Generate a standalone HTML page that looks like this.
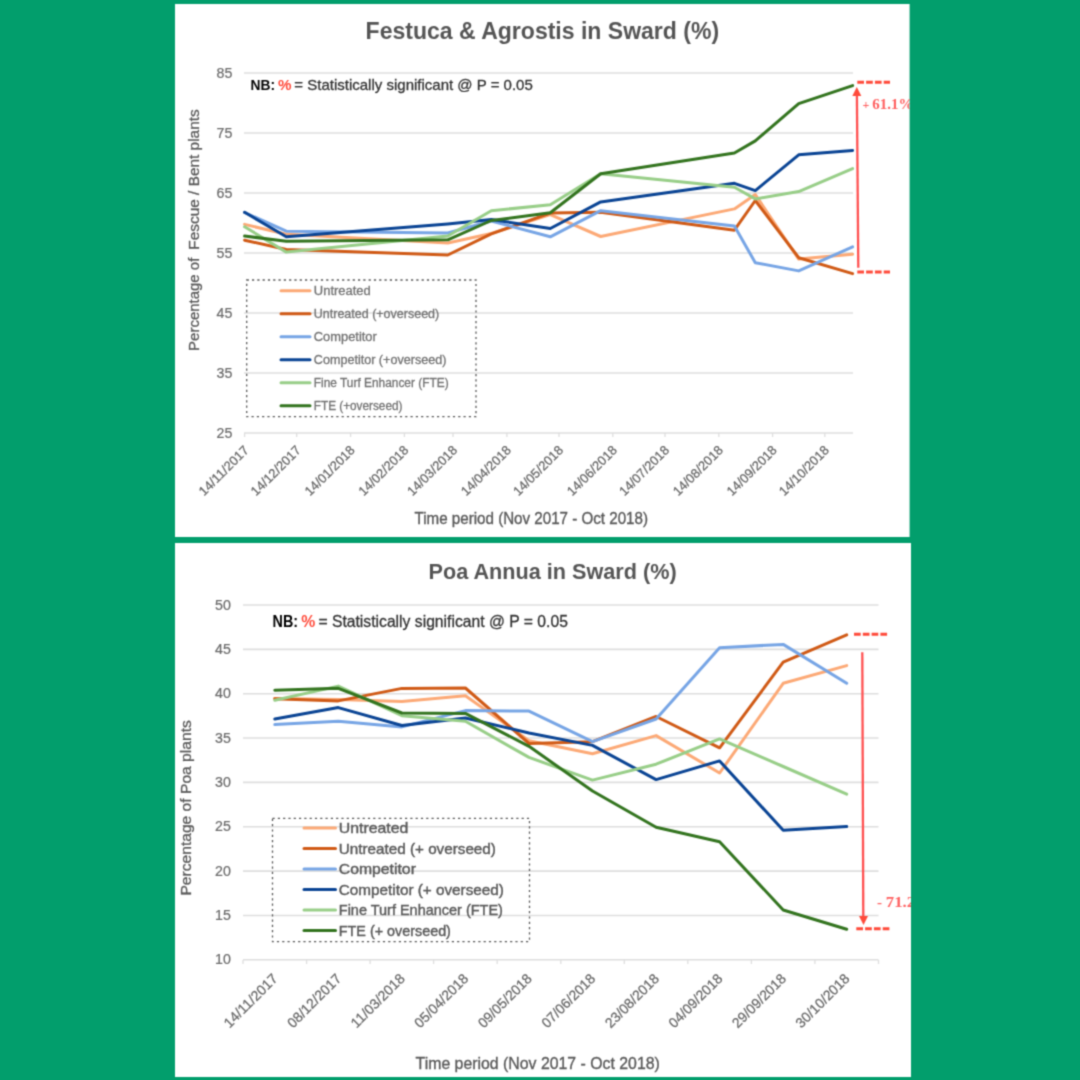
<!DOCTYPE html><html><head><meta charset="utf-8"><style>html,body{margin:0;padding:0;background:#029E6C;}svg{display:block}</style></head><body>
<svg width="1080" height="1080" viewBox="0 0 1080 1080">
<defs><filter id="bl" x="0" y="0" width="1080" height="1080" filterUnits="userSpaceOnUse" color-interpolation-filters="sRGB"><feConvolveMatrix order="3" kernelMatrix="0.03607 0.11778 0.03607 0.11778 0.38462 0.11778 0.03607 0.11778 0.03607" edgeMode="duplicate"/></filter></defs><g filter="url(#bl)">
<rect x="0" y="0" width="1080" height="1080" fill="#029E6C"/>
<rect x="175" y="4" width="734.6" height="533" fill="#FFFFFF"/>
<rect x="175" y="543" width="736" height="534" fill="#FFFFFF"/>
<defs><clipPath id="c1"><rect x="175" y="4" width="735" height="533"/></clipPath><clipPath id="c2"><rect x="175" y="543" width="736" height="534"/></clipPath></defs>
<g clip-path="url(#c1)">
<text x="365.6" y="39" font-family="Liberation Sans" font-size="23.3" font-weight="bold" fill="#555" text-anchor="start" textLength="353.5" lengthAdjust="spacingAndGlyphs" >Festuca &amp; Agrostis in Sward (%)</text>
<line x1="244" y1="73" x2="853" y2="73" stroke="#DEDEDE" stroke-width="1.6"/>
<text x="232.3" y="77.5" font-family="Liberation Sans" font-size="14" font-weight="normal" fill="#6A6A6A" text-anchor="end" textLength="15.8" lengthAdjust="spacingAndGlyphs" stroke="#6A6A6A" stroke-width="0.2" >85</text>
<line x1="244" y1="133" x2="853" y2="133" stroke="#DEDEDE" stroke-width="1.6"/>
<text x="232.3" y="137.5" font-family="Liberation Sans" font-size="14" font-weight="normal" fill="#6A6A6A" text-anchor="end" textLength="15.8" lengthAdjust="spacingAndGlyphs" stroke="#6A6A6A" stroke-width="0.2" >75</text>
<line x1="244" y1="193" x2="853" y2="193" stroke="#DEDEDE" stroke-width="1.6"/>
<text x="232.3" y="197.5" font-family="Liberation Sans" font-size="14" font-weight="normal" fill="#6A6A6A" text-anchor="end" textLength="15.8" lengthAdjust="spacingAndGlyphs" stroke="#6A6A6A" stroke-width="0.2" >65</text>
<line x1="244" y1="253" x2="853" y2="253" stroke="#DEDEDE" stroke-width="1.6"/>
<text x="232.3" y="257.5" font-family="Liberation Sans" font-size="14" font-weight="normal" fill="#6A6A6A" text-anchor="end" textLength="15.8" lengthAdjust="spacingAndGlyphs" stroke="#6A6A6A" stroke-width="0.2" >55</text>
<line x1="244" y1="313" x2="853" y2="313" stroke="#DEDEDE" stroke-width="1.6"/>
<text x="232.3" y="317.5" font-family="Liberation Sans" font-size="14" font-weight="normal" fill="#6A6A6A" text-anchor="end" textLength="15.8" lengthAdjust="spacingAndGlyphs" stroke="#6A6A6A" stroke-width="0.2" >45</text>
<line x1="244" y1="373" x2="853" y2="373" stroke="#DEDEDE" stroke-width="1.6"/>
<text x="232.3" y="377.5" font-family="Liberation Sans" font-size="14" font-weight="normal" fill="#6A6A6A" text-anchor="end" textLength="15.8" lengthAdjust="spacingAndGlyphs" stroke="#6A6A6A" stroke-width="0.2" >35</text>
<line x1="244" y1="433" x2="853" y2="433" stroke="#DEDEDE" stroke-width="1.6"/>
<text x="232.3" y="437.5" font-family="Liberation Sans" font-size="14" font-weight="normal" fill="#6A6A6A" text-anchor="end" textLength="15.8" lengthAdjust="spacingAndGlyphs" stroke="#6A6A6A" stroke-width="0.2" >25</text>
<line x1="244.6" y1="433" x2="244.6" y2="437" stroke="#DEDEDE" stroke-width="1.3"/>
<line x1="296.7" y1="433" x2="296.7" y2="437" stroke="#DEDEDE" stroke-width="1.3"/>
<line x1="350.6" y1="433" x2="350.6" y2="437" stroke="#DEDEDE" stroke-width="1.3"/>
<line x1="404.4" y1="433" x2="404.4" y2="437" stroke="#DEDEDE" stroke-width="1.3"/>
<line x1="453.0" y1="433" x2="453.0" y2="437" stroke="#DEDEDE" stroke-width="1.3"/>
<line x1="506.9" y1="433" x2="506.9" y2="437" stroke="#DEDEDE" stroke-width="1.3"/>
<line x1="559.0" y1="433" x2="559.0" y2="437" stroke="#DEDEDE" stroke-width="1.3"/>
<line x1="612.8" y1="433" x2="612.8" y2="437" stroke="#DEDEDE" stroke-width="1.3"/>
<line x1="665.0" y1="433" x2="665.0" y2="437" stroke="#DEDEDE" stroke-width="1.3"/>
<line x1="718.8" y1="433" x2="718.8" y2="437" stroke="#DEDEDE" stroke-width="1.3"/>
<line x1="772.6" y1="433" x2="772.6" y2="437" stroke="#DEDEDE" stroke-width="1.3"/>
<line x1="824.8" y1="433" x2="824.8" y2="437" stroke="#DEDEDE" stroke-width="1.3"/>
<text transform="translate(249.6,451.0) rotate(-45)" font-family="Liberation Sans" font-size="13" fill="#686868" stroke="#686868" stroke-width="0.25" text-anchor="end" textLength="64.5" lengthAdjust="spacingAndGlyphs">14/11/2017</text>
<text transform="translate(301.7,451.0) rotate(-45)" font-family="Liberation Sans" font-size="13" fill="#686868" stroke="#686868" stroke-width="0.25" text-anchor="end" textLength="64.5" lengthAdjust="spacingAndGlyphs">14/12/2017</text>
<text transform="translate(355.6,451.0) rotate(-45)" font-family="Liberation Sans" font-size="13" fill="#686868" stroke="#686868" stroke-width="0.25" text-anchor="end" textLength="64.5" lengthAdjust="spacingAndGlyphs">14/01/2018</text>
<text transform="translate(409.4,451.0) rotate(-45)" font-family="Liberation Sans" font-size="13" fill="#686868" stroke="#686868" stroke-width="0.25" text-anchor="end" textLength="64.5" lengthAdjust="spacingAndGlyphs">14/02/2018</text>
<text transform="translate(458.0,451.0) rotate(-45)" font-family="Liberation Sans" font-size="13" fill="#686868" stroke="#686868" stroke-width="0.25" text-anchor="end" textLength="64.5" lengthAdjust="spacingAndGlyphs">14/03/2018</text>
<text transform="translate(511.9,451.0) rotate(-45)" font-family="Liberation Sans" font-size="13" fill="#686868" stroke="#686868" stroke-width="0.25" text-anchor="end" textLength="64.5" lengthAdjust="spacingAndGlyphs">14/04/2018</text>
<text transform="translate(564.0,451.0) rotate(-45)" font-family="Liberation Sans" font-size="13" fill="#686868" stroke="#686868" stroke-width="0.25" text-anchor="end" textLength="64.5" lengthAdjust="spacingAndGlyphs">14/05/2018</text>
<text transform="translate(617.8,451.0) rotate(-45)" font-family="Liberation Sans" font-size="13" fill="#686868" stroke="#686868" stroke-width="0.25" text-anchor="end" textLength="64.5" lengthAdjust="spacingAndGlyphs">14/06/2018</text>
<text transform="translate(670.0,451.0) rotate(-45)" font-family="Liberation Sans" font-size="13" fill="#686868" stroke="#686868" stroke-width="0.25" text-anchor="end" textLength="64.5" lengthAdjust="spacingAndGlyphs">14/07/2018</text>
<text transform="translate(723.8,451.0) rotate(-45)" font-family="Liberation Sans" font-size="13" fill="#686868" stroke="#686868" stroke-width="0.25" text-anchor="end" textLength="64.5" lengthAdjust="spacingAndGlyphs">14/08/2018</text>
<text transform="translate(777.6,451.0) rotate(-45)" font-family="Liberation Sans" font-size="13" fill="#686868" stroke="#686868" stroke-width="0.25" text-anchor="end" textLength="64.5" lengthAdjust="spacingAndGlyphs">14/09/2018</text>
<text transform="translate(829.8,451.0) rotate(-45)" font-family="Liberation Sans" font-size="13" fill="#686868" stroke="#686868" stroke-width="0.25" text-anchor="end" textLength="64.5" lengthAdjust="spacingAndGlyphs">14/10/2018</text>
<text transform="translate(199.1,350.9) rotate(-90)" font-family="Liberation Sans" font-size="15.5" fill="#595959" stroke="#595959" stroke-width="0.3" textLength="93.2" lengthAdjust="spacingAndGlyphs">Percentage of</text>
<text transform="translate(199.1,249.7) rotate(-90)" font-family="Liberation Sans" font-size="15.5" fill="#595959" stroke="#595959" stroke-width="0.3" textLength="140.4" lengthAdjust="spacingAndGlyphs">Fescue / Bent plants</text>
<text x="414.5" y="524" font-family="Liberation Sans" font-size="16" font-weight="normal" fill="#595959" text-anchor="start" textLength="233.5" lengthAdjust="spacingAndGlyphs" stroke="#595959" stroke-width="0.35" >Time period (Nov 2017 - Oct 2018)</text>
<text x="250.6" y="89.9" font-family="Liberation Sans" font-size="15" font-weight="bold" fill="#000" textLength="24.5" lengthAdjust="spacingAndGlyphs">NB:</text>
<text x="278.1" y="89.9" font-family="Liberation Sans" font-size="15" font-weight="bold" fill="#FF4A3A" textLength="13.5" lengthAdjust="spacingAndGlyphs">%</text>
<text x="294.3" y="89.9" font-family="Liberation Sans" font-size="15" fill="#333" stroke="#333" stroke-width="0.3" textLength="238.5" lengthAdjust="spacingAndGlyphs">= Statistically significant @ P = 0.05</text>
<rect x="246.7" y="280" width="229.3" height="136.7" fill="none" stroke="#595959" stroke-width="1.3" stroke-dasharray="2.2 3.1"/>
<line x1="281" y1="290.7" x2="310" y2="290.7" stroke="#FCA976" stroke-width="3" stroke-linecap="round"/>
<text x="313.8" y="295.09999999999997" font-family="Liberation Sans" font-size="12" font-weight="normal" fill="#727272" text-anchor="start" textLength="57" lengthAdjust="spacingAndGlyphs" stroke="#727272" stroke-width="0.3" >Untreated</text>
<line x1="281" y1="313.7" x2="310" y2="313.7" stroke="#D05A16" stroke-width="3" stroke-linecap="round"/>
<text x="313.8" y="318.09999999999997" font-family="Liberation Sans" font-size="12" font-weight="normal" fill="#727272" text-anchor="start" textLength="125.4" lengthAdjust="spacingAndGlyphs" stroke="#727272" stroke-width="0.3" >Untreated (+overseed)</text>
<line x1="281" y1="336.7" x2="310" y2="336.7" stroke="#77A5E5" stroke-width="3" stroke-linecap="round"/>
<text x="313.8" y="341.09999999999997" font-family="Liberation Sans" font-size="12" font-weight="normal" fill="#727272" text-anchor="start" textLength="63" lengthAdjust="spacingAndGlyphs" stroke="#727272" stroke-width="0.3" >Competitor</text>
<line x1="281" y1="359.7" x2="310" y2="359.7" stroke="#0A4494" stroke-width="3" stroke-linecap="round"/>
<text x="313.8" y="364.09999999999997" font-family="Liberation Sans" font-size="12" font-weight="normal" fill="#727272" text-anchor="start" textLength="132.6" lengthAdjust="spacingAndGlyphs" stroke="#727272" stroke-width="0.3" >Competitor (+overseed)</text>
<line x1="281" y1="382.7" x2="310" y2="382.7" stroke="#98CE88" stroke-width="3" stroke-linecap="round"/>
<text x="313.8" y="387.09999999999997" font-family="Liberation Sans" font-size="12" font-weight="normal" fill="#727272" text-anchor="start" textLength="134.8" lengthAdjust="spacingAndGlyphs" stroke="#727272" stroke-width="0.3" >Fine Turf Enhancer (FTE)</text>
<line x1="281" y1="405.7" x2="310" y2="405.7" stroke="#33741F" stroke-width="3" stroke-linecap="round"/>
<text x="313.8" y="410.09999999999997" font-family="Liberation Sans" font-size="12" font-weight="normal" fill="#727272" text-anchor="start" textLength="88.6" lengthAdjust="spacingAndGlyphs" stroke="#727272" stroke-width="0.3" >FTE (+overseed)</text>
<polyline points="244.6,224.4 286.3,234.2 447.8,243.0 491.3,233.5 550.3,214.6 600.7,236.5 734.4,208.9 755.3,194.6 798.7,259.1 852.6,254.2" fill="none" stroke="#FCA976" stroke-width="3" stroke-linejoin="round" stroke-linecap="round"/>
<polyline points="244.6,240.2 286.3,249.5 447.8,255.0 491.3,233.9 550.3,213.1 600.7,212.2 734.4,230.2 755.3,200.5 798.7,257.7 852.6,273.6" fill="none" stroke="#D05A16" stroke-width="3" stroke-linejoin="round" stroke-linecap="round"/>
<polyline points="244.6,212.5 286.3,231.2 447.8,233.0 491.3,221.0 550.3,236.8 600.7,210.7 734.4,226.0 755.3,262.7 798.7,270.9 852.6,246.8" fill="none" stroke="#77A5E5" stroke-width="3" stroke-linejoin="round" stroke-linecap="round"/>
<polyline points="244.6,212.3 286.3,236.8 447.8,224.0 491.3,219.6 550.3,228.5 600.7,201.9 734.4,183.3 755.3,190.6 798.7,154.8 852.6,150.5" fill="none" stroke="#0A4494" stroke-width="3" stroke-linejoin="round" stroke-linecap="round"/>
<polyline points="244.6,226.8 286.3,252.1 447.8,236.0 491.3,210.7 550.3,204.8 600.7,173.7 734.4,187.2 755.3,198.9 798.7,191.6 852.6,168.6" fill="none" stroke="#98CE88" stroke-width="3" stroke-linejoin="round" stroke-linecap="round"/>
<polyline points="244.6,236.1 286.3,241.2 447.8,239.8 491.3,220.5 550.3,212.8 600.7,173.7 734.4,153.0 755.3,140.9 798.7,103.7 852.6,85.6" fill="none" stroke="#33741F" stroke-width="3" stroke-linejoin="round" stroke-linecap="round"/>
<line x1="857.3" y1="82.3" x2="890" y2="82.3" stroke="#FF4A3A" stroke-width="3" stroke-dasharray="6.7 2.1"/>
<line x1="857.3" y1="271.9" x2="890" y2="271.9" stroke="#FF4A3A" stroke-width="3" stroke-dasharray="6.7 2.1"/>
<line x1="856.9" y1="95" x2="858.3" y2="267.7" stroke="#FF5050" stroke-width="2.3"/>
<polygon points="856.8,87 852.3,96 861.3,96" fill="#FF4A3A"/>
<text x="862.6" y="108.6" font-family="Liberation Serif" font-size="12" font-weight="bold" fill="#FF6060">+</text>
<text x="872.3" y="109.3" font-family="Liberation Serif" font-size="14.5" font-weight="bold" fill="#FF6060" textLength="41" lengthAdjust="spacingAndGlyphs">61.1%</text>
</g>
<g clip-path="url(#c2)">
<text x="428.6" y="578.5" font-family="Liberation Sans" font-size="22" font-weight="bold" fill="#555" text-anchor="start" textLength="248" lengthAdjust="spacingAndGlyphs" >Poa Annua in Sward (%)</text>
<line x1="243" y1="605.0" x2="878.5" y2="605.0" stroke="#DEDEDE" stroke-width="1.6"/>
<text x="230.9" y="609.6" font-family="Liberation Sans" font-size="14" font-weight="normal" fill="#6A6A6A" text-anchor="end" textLength="15.8" lengthAdjust="spacingAndGlyphs" stroke="#6A6A6A" stroke-width="0.2" >50</text>
<line x1="243" y1="649.4" x2="878.5" y2="649.4" stroke="#DEDEDE" stroke-width="1.6"/>
<text x="230.9" y="653.95" font-family="Liberation Sans" font-size="14" font-weight="normal" fill="#6A6A6A" text-anchor="end" textLength="15.8" lengthAdjust="spacingAndGlyphs" stroke="#6A6A6A" stroke-width="0.2" >45</text>
<line x1="243" y1="693.7" x2="878.5" y2="693.7" stroke="#DEDEDE" stroke-width="1.6"/>
<text x="230.9" y="698.3000000000001" font-family="Liberation Sans" font-size="14" font-weight="normal" fill="#6A6A6A" text-anchor="end" textLength="15.8" lengthAdjust="spacingAndGlyphs" stroke="#6A6A6A" stroke-width="0.2" >40</text>
<line x1="243" y1="738.0" x2="878.5" y2="738.0" stroke="#DEDEDE" stroke-width="1.6"/>
<text x="230.9" y="742.65" font-family="Liberation Sans" font-size="14" font-weight="normal" fill="#6A6A6A" text-anchor="end" textLength="15.8" lengthAdjust="spacingAndGlyphs" stroke="#6A6A6A" stroke-width="0.2" >35</text>
<line x1="243" y1="782.4" x2="878.5" y2="782.4" stroke="#DEDEDE" stroke-width="1.6"/>
<text x="230.9" y="787.0" font-family="Liberation Sans" font-size="14" font-weight="normal" fill="#6A6A6A" text-anchor="end" textLength="15.8" lengthAdjust="spacingAndGlyphs" stroke="#6A6A6A" stroke-width="0.2" >30</text>
<line x1="243" y1="826.8" x2="878.5" y2="826.8" stroke="#DEDEDE" stroke-width="1.6"/>
<text x="230.9" y="831.35" font-family="Liberation Sans" font-size="14" font-weight="normal" fill="#6A6A6A" text-anchor="end" textLength="15.8" lengthAdjust="spacingAndGlyphs" stroke="#6A6A6A" stroke-width="0.2" >25</text>
<line x1="243" y1="871.1" x2="878.5" y2="871.1" stroke="#DEDEDE" stroke-width="1.6"/>
<text x="230.9" y="875.7" font-family="Liberation Sans" font-size="14" font-weight="normal" fill="#6A6A6A" text-anchor="end" textLength="15.8" lengthAdjust="spacingAndGlyphs" stroke="#6A6A6A" stroke-width="0.2" >20</text>
<line x1="243" y1="915.5" x2="878.5" y2="915.5" stroke="#DEDEDE" stroke-width="1.6"/>
<text x="230.9" y="920.0500000000001" font-family="Liberation Sans" font-size="14" font-weight="normal" fill="#6A6A6A" text-anchor="end" textLength="15.8" lengthAdjust="spacingAndGlyphs" stroke="#6A6A6A" stroke-width="0.2" >15</text>
<line x1="243" y1="959.8" x2="878.5" y2="959.8" stroke="#DEDEDE" stroke-width="1.6"/>
<text x="230.9" y="964.4" font-family="Liberation Sans" font-size="14" font-weight="normal" fill="#6A6A6A" text-anchor="end" textLength="15.8" lengthAdjust="spacingAndGlyphs" stroke="#6A6A6A" stroke-width="0.2" >10</text>
<line x1="243.0" y1="960" x2="243.0" y2="964" stroke="#DEDEDE" stroke-width="1.3"/>
<line x1="306.6" y1="960" x2="306.6" y2="964" stroke="#DEDEDE" stroke-width="1.3"/>
<line x1="370.1" y1="960" x2="370.1" y2="964" stroke="#DEDEDE" stroke-width="1.3"/>
<line x1="433.6" y1="960" x2="433.6" y2="964" stroke="#DEDEDE" stroke-width="1.3"/>
<line x1="497.2" y1="960" x2="497.2" y2="964" stroke="#DEDEDE" stroke-width="1.3"/>
<line x1="560.8" y1="960" x2="560.8" y2="964" stroke="#DEDEDE" stroke-width="1.3"/>
<line x1="624.3" y1="960" x2="624.3" y2="964" stroke="#DEDEDE" stroke-width="1.3"/>
<line x1="687.8" y1="960" x2="687.8" y2="964" stroke="#DEDEDE" stroke-width="1.3"/>
<line x1="751.4" y1="960" x2="751.4" y2="964" stroke="#DEDEDE" stroke-width="1.3"/>
<line x1="814.9" y1="960" x2="814.9" y2="964" stroke="#DEDEDE" stroke-width="1.3"/>
<line x1="878.5" y1="960" x2="878.5" y2="964" stroke="#DEDEDE" stroke-width="1.3"/>
<text transform="translate(278.6,979.5) rotate(-45)" font-family="Liberation Sans" font-size="14" fill="#686868" stroke="#686868" stroke-width="0.25" text-anchor="end" textLength="69.5" lengthAdjust="spacingAndGlyphs">14/11/2017</text>
<text transform="translate(342.1,979.5) rotate(-45)" font-family="Liberation Sans" font-size="14" fill="#686868" stroke="#686868" stroke-width="0.25" text-anchor="end" textLength="69.5" lengthAdjust="spacingAndGlyphs">08/12/2017</text>
<text transform="translate(405.7,979.5) rotate(-45)" font-family="Liberation Sans" font-size="14" fill="#686868" stroke="#686868" stroke-width="0.25" text-anchor="end" textLength="69.5" lengthAdjust="spacingAndGlyphs">11/03/2018</text>
<text transform="translate(469.2,979.5) rotate(-45)" font-family="Liberation Sans" font-size="14" fill="#686868" stroke="#686868" stroke-width="0.25" text-anchor="end" textLength="69.5" lengthAdjust="spacingAndGlyphs">05/04/2018</text>
<text transform="translate(532.8,979.5) rotate(-45)" font-family="Liberation Sans" font-size="14" fill="#686868" stroke="#686868" stroke-width="0.25" text-anchor="end" textLength="69.5" lengthAdjust="spacingAndGlyphs">09/05/2018</text>
<text transform="translate(596.3,979.5) rotate(-45)" font-family="Liberation Sans" font-size="14" fill="#686868" stroke="#686868" stroke-width="0.25" text-anchor="end" textLength="69.5" lengthAdjust="spacingAndGlyphs">07/06/2018</text>
<text transform="translate(659.9,979.5) rotate(-45)" font-family="Liberation Sans" font-size="14" fill="#686868" stroke="#686868" stroke-width="0.25" text-anchor="end" textLength="69.5" lengthAdjust="spacingAndGlyphs">23/08/2018</text>
<text transform="translate(723.4,979.5) rotate(-45)" font-family="Liberation Sans" font-size="14" fill="#686868" stroke="#686868" stroke-width="0.25" text-anchor="end" textLength="69.5" lengthAdjust="spacingAndGlyphs">04/09/2018</text>
<text transform="translate(787.0,979.5) rotate(-45)" font-family="Liberation Sans" font-size="14" fill="#686868" stroke="#686868" stroke-width="0.25" text-anchor="end" textLength="69.5" lengthAdjust="spacingAndGlyphs">29/09/2018</text>
<text transform="translate(850.5,979.5) rotate(-45)" font-family="Liberation Sans" font-size="14" fill="#686868" stroke="#686868" stroke-width="0.25" text-anchor="end" textLength="69.5" lengthAdjust="spacingAndGlyphs">30/10/2018</text>
<text transform="translate(191.3,895.6) rotate(-90)" font-family="Liberation Sans" font-size="15.5" fill="#595959" stroke="#595959" stroke-width="0.3" textLength="175.4" lengthAdjust="spacingAndGlyphs">Percentage of Poa plants</text>
<text x="415.6" y="1068.9" font-family="Liberation Sans" font-size="16.5" font-weight="normal" fill="#595959" text-anchor="start" textLength="244.2" lengthAdjust="spacingAndGlyphs" stroke="#595959" stroke-width="0.35" >Time period (Nov 2017 - Oct 2018)</text>
<text x="272.6" y="626.7" font-family="Liberation Sans" font-size="16.5" font-weight="bold" fill="#000" textLength="25.5" lengthAdjust="spacingAndGlyphs">NB:</text>
<text x="301.3" y="626.7" font-family="Liberation Sans" font-size="16.5" font-weight="bold" fill="#FF4A3A" textLength="14" lengthAdjust="spacingAndGlyphs">%</text>
<text x="318.4" y="626.7" font-family="Liberation Sans" font-size="16.5" fill="#333" stroke="#333" stroke-width="0.3" textLength="249.5" lengthAdjust="spacingAndGlyphs">= Statistically significant @ P = 0.05</text>
<rect x="272.5" y="818.3" width="257" height="123.3" fill="none" stroke="#595959" stroke-width="1.3" stroke-dasharray="2.2 3.1"/>
<line x1="304" y1="828.1" x2="335.5" y2="828.1" stroke="#FCA976" stroke-width="3" stroke-linecap="round"/>
<text x="338.8" y="833.3000000000001" font-family="Liberation Sans" font-size="14.5" font-weight="normal" fill="#595959" text-anchor="start" textLength="69.6" lengthAdjust="spacingAndGlyphs" stroke="#595959" stroke-width="0.4" >Untreated</text>
<line x1="304" y1="848.6" x2="335.5" y2="848.6" stroke="#D05A16" stroke-width="3" stroke-linecap="round"/>
<text x="338.8" y="853.7600000000001" font-family="Liberation Sans" font-size="14.5" font-weight="normal" fill="#595959" text-anchor="start" textLength="157.1" lengthAdjust="spacingAndGlyphs" stroke="#595959" stroke-width="0.4" >Untreated (+ overseed)</text>
<line x1="304" y1="869.0" x2="335.5" y2="869.0" stroke="#77A5E5" stroke-width="3" stroke-linecap="round"/>
<text x="338.8" y="874.22" font-family="Liberation Sans" font-size="14.5" font-weight="normal" fill="#595959" text-anchor="start" textLength="77.1" lengthAdjust="spacingAndGlyphs" stroke="#595959" stroke-width="0.4" >Competitor</text>
<line x1="304" y1="889.5" x2="335.5" y2="889.5" stroke="#0A4494" stroke-width="3" stroke-linecap="round"/>
<text x="338.8" y="894.6800000000001" font-family="Liberation Sans" font-size="14.5" font-weight="normal" fill="#595959" text-anchor="start" textLength="165.1" lengthAdjust="spacingAndGlyphs" stroke="#595959" stroke-width="0.4" >Competitor (+ overseed)</text>
<line x1="304" y1="909.9" x2="335.5" y2="909.9" stroke="#98CE88" stroke-width="3" stroke-linecap="round"/>
<text x="338.8" y="915.1400000000001" font-family="Liberation Sans" font-size="14.5" font-weight="normal" fill="#595959" text-anchor="start" textLength="164.1" lengthAdjust="spacingAndGlyphs" stroke="#595959" stroke-width="0.4" >Fine Turf Enhancer (FTE)</text>
<line x1="304" y1="930.4" x2="335.5" y2="930.4" stroke="#33741F" stroke-width="3" stroke-linecap="round"/>
<text x="338.8" y="935.6000000000001" font-family="Liberation Sans" font-size="14.5" font-weight="normal" fill="#595959" text-anchor="start" textLength="112.1" lengthAdjust="spacingAndGlyphs" stroke="#595959" stroke-width="0.4" >FTE (+ overseed)</text>
<polyline points="274.8,698.5 338.3,699.4 401.9,701.4 465.4,695.8 529.0,740.7 592.5,753.7 656.1,735.6 719.6,773.0 783.2,683.3 846.7,665.6" fill="none" stroke="#FCA976" stroke-width="3" stroke-linejoin="round" stroke-linecap="round"/>
<polyline points="274.8,698.7 338.3,700.9 401.9,688.4 465.4,688.0 529.0,743.5 592.5,741.7 656.1,716.5 719.6,747.8 783.2,662.2 846.7,634.9" fill="none" stroke="#D05A16" stroke-width="3" stroke-linejoin="round" stroke-linecap="round"/>
<polyline points="274.8,724.6 338.3,721.3 401.9,726.9 465.4,710.6 529.0,711.1 592.5,741.7 656.1,719.0 719.6,647.8 783.2,644.4 846.7,683.3" fill="none" stroke="#77A5E5" stroke-width="3" stroke-linejoin="round" stroke-linecap="round"/>
<polyline points="274.8,719.1 338.3,707.6 401.9,725.5 465.4,718.0 529.0,733.0 592.5,745.4 656.1,779.6 719.6,760.9 783.2,830.3 846.7,826.6" fill="none" stroke="#0A4494" stroke-width="3" stroke-linejoin="round" stroke-linecap="round"/>
<polyline points="274.8,700.2 338.3,686.1 401.9,715.7 465.4,721.3 529.0,757.4 592.5,780.1 656.1,764.2 719.6,738.9 783.2,766.5 846.7,794.2" fill="none" stroke="#98CE88" stroke-width="3" stroke-linejoin="round" stroke-linecap="round"/>
<polyline points="274.8,690.2 338.3,688.3 401.9,713.0 465.4,713.4 529.0,746.3 592.5,791.0 656.1,827.3 719.6,841.7 783.2,910.0 846.7,929.3" fill="none" stroke="#33741F" stroke-width="3" stroke-linejoin="round" stroke-linecap="round"/>
<line x1="854" y1="634.3" x2="888" y2="634.3" stroke="#FF4A3A" stroke-width="3" stroke-dasharray="6.7 2.1"/>
<line x1="856.3" y1="928.7" x2="890" y2="928.7" stroke="#FF4A3A" stroke-width="3" stroke-dasharray="6.7 2.1"/>
<line x1="862.3" y1="652.3" x2="863.3" y2="917" stroke="#FF5050" stroke-width="2.3"/>
<polygon points="863.5,925 859,916 868,916" fill="#FF4A3A"/>
<text x="877" y="907" font-family="Liberation Serif" font-size="15" font-weight="bold" fill="#FF6060">-</text>
<text x="885.8" y="907" font-family="Liberation Serif" font-size="15.5" font-weight="bold" fill="#FF6060" textLength="46" lengthAdjust="spacingAndGlyphs">71.2%</text>
</g>
</g></svg></body></html>
